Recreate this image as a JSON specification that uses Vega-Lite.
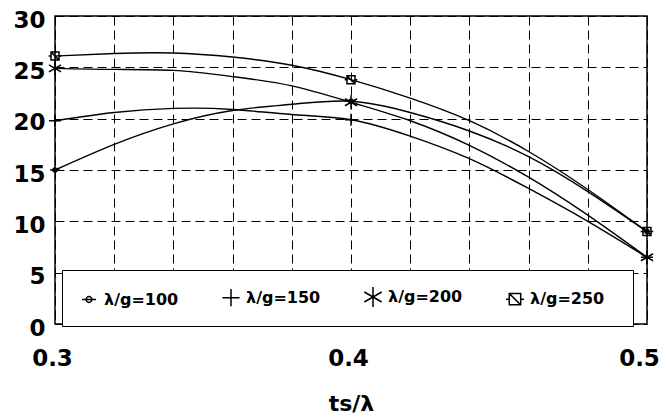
{
  "$schema": "https://vega.github.io/schema/vega-lite/v6.json",
  "width": 592,
  "height": 308,
  "autosize": "none",
  "padding": {"left": 55, "top": 16, "right": 20, "bottom": 96},
  "background": "white",
  "config": {
    "view": {"stroke": "black", "strokeWidth": 1.5},
    "font": "DejaVu Sans"
  },
  "data": {
    "values": [
      {"x": 0.30, "y": 15.0, "series": "λ/g=100"},
      {"x": 0.32, "y": 17.5, "series": "λ/g=100"},
      {"x": 0.34, "y": 19.5, "series": "λ/g=100"},
      {"x": 0.36, "y": 20.8, "series": "λ/g=100"},
      {"x": 0.38, "y": 21.4, "series": "λ/g=100"},
      {"x": 0.40, "y": 21.7, "series": "λ/g=100"},
      {"x": 0.42, "y": 20.6, "series": "λ/g=100"},
      {"x": 0.44, "y": 18.8, "series": "λ/g=100"},
      {"x": 0.46, "y": 16.3, "series": "λ/g=100"},
      {"x": 0.48, "y": 12.9, "series": "λ/g=100"},
      {"x": 0.50, "y": 9.0, "series": "λ/g=100"},
      {"x": 0.30, "y": 19.8, "series": "λ/g=150"},
      {"x": 0.32, "y": 20.6, "series": "λ/g=150"},
      {"x": 0.34, "y": 21.0, "series": "λ/g=150"},
      {"x": 0.36, "y": 20.9, "series": "λ/g=150"},
      {"x": 0.38, "y": 20.4, "series": "λ/g=150"},
      {"x": 0.40, "y": 19.9, "series": "λ/g=150"},
      {"x": 0.42, "y": 18.3, "series": "λ/g=150"},
      {"x": 0.44, "y": 16.1, "series": "λ/g=150"},
      {"x": 0.46, "y": 13.2, "series": "λ/g=150"},
      {"x": 0.48, "y": 10.0, "series": "λ/g=150"},
      {"x": 0.50, "y": 6.5, "series": "λ/g=150"},
      {"x": 0.30, "y": 24.9, "series": "λ/g=200"},
      {"x": 0.32, "y": 24.8, "series": "λ/g=200"},
      {"x": 0.34, "y": 24.7, "series": "λ/g=200"},
      {"x": 0.36, "y": 24.1, "series": "λ/g=200"},
      {"x": 0.38, "y": 23.2, "series": "λ/g=200"},
      {"x": 0.40, "y": 21.6, "series": "λ/g=200"},
      {"x": 0.42, "y": 19.8, "series": "λ/g=200"},
      {"x": 0.44, "y": 17.4, "series": "λ/g=200"},
      {"x": 0.46, "y": 14.3, "series": "λ/g=200"},
      {"x": 0.48, "y": 10.6, "series": "λ/g=200"},
      {"x": 0.50, "y": 6.5, "series": "λ/g=200"},
      {"x": 0.30, "y": 26.1, "series": "λ/g=250"},
      {"x": 0.32, "y": 26.35, "series": "λ/g=250"},
      {"x": 0.34, "y": 26.4, "series": "λ/g=250"},
      {"x": 0.36, "y": 26.0, "series": "λ/g=250"},
      {"x": 0.38, "y": 25.2, "series": "λ/g=250"},
      {"x": 0.40, "y": 23.8, "series": "λ/g=250"},
      {"x": 0.42, "y": 22.0, "series": "λ/g=250"},
      {"x": 0.44, "y": 19.8, "series": "λ/g=250"},
      {"x": 0.46, "y": 16.8, "series": "λ/g=250"},
      {"x": 0.48, "y": 13.1, "series": "λ/g=250"},
      {"x": 0.50, "y": 9.0, "series": "λ/g=250"}
    ]
  },
  "encoding": {
    "x": {
      "field": "x",
      "type": "quantitative",
      "scale": {"domain": [0.3, 0.5], "nice": false, "zero": false},
      "axis": {
        "values": [0.3, 0.32, 0.34, 0.36, 0.38, 0.4, 0.42, 0.44, 0.46, 0.48, 0.5],
        "format": ".1f",
        "labelExpr": "datum.value == 0.3 || datum.value == 0.4 || datum.value == 0.5 ? datum.label : ''",
        "labelOverlap": false,
        "labelFlush": false,
        "labelBound": false,
        "labelOffset": {"condition": {"test": "datum.value == 0.5", "value": -8}, "value": -3},
        "title": "ts/λ",
        "grid": true,
        "gridDash": [9, 5],
        "gridColor": "black",
        "gridOpacity": 1,
        "gridWidth": 1,
        "ticks": false,
        "domain": false,
        "labelFont": "DejaVu Sans",
        "labelFontWeight": "bold",
        "labelFontSize": 23,
        "labelColor": "black",
        "labelPadding": 23,
        "titleFont": "DejaVu Sans",
        "titleFontWeight": "bold",
        "titleFontSize": 22,
        "titleColor": "black",
        "titlePadding": 23
      }
    },
    "y": {
      "field": "y",
      "type": "quantitative",
      "scale": {"domain": [0, 30], "nice": false},
      "axis": {
        "values": [0, 5, 10, 15, 20, 25, 30],
        "title": null,
        "grid": true,
        "gridDash": [9, 5],
        "gridColor": "black",
        "gridOpacity": 1,
        "gridWidth": 1,
        "ticks": false,
        "domain": false,
        "labelFont": "DejaVu Sans",
        "labelFontWeight": "bold",
        "labelFontSize": 23,
        "labelColor": "black",
        "labelPadding": 10,
        "labelOffset": 4
      }
    }
  },
  "layer": [
    {
      "mark": {"type": "line", "color": "black", "strokeWidth": 1.4, "interpolate": "natural"},
      "encoding": {"detail": {"field": "series", "type": "nominal"}}
    },
    {
      "transform": [{"filter": "datum.x == 0.3 || datum.x == 0.4 || datum.x == 0.5"}],
      "mark": {"type": "point", "filled": false, "stroke": "black", "strokeWidth": 1.5, "opacity": 1, "size": 196},
      "encoding": {
        "shape": {
          "field": "series",
          "type": "nominal",
          "scale": {
            "domain": ["λ/g=100", "λ/g=150", "λ/g=200", "λ/g=250"],
            "range": [
              "M-0.7,0H0.7M-0.29,0A0.29,0.29 0 1,0 0.29,0A0.29,0.29 0 1,0 -0.29,0",
              "M-0.86,0H0.86M0,-0.86V0.86",
              "M0,-1V1M-0.866,-0.5L0.866,0.5M-0.866,0.5L0.866,-0.5",
              "M-0.57,-0.57H0.57V0.57H-0.57ZM-0.57,-0.57L0.57,0.57M-0.9,0H-0.57M0.57,0H0.9"
            ]
          },
          "legend": {
            "title": null,
            "orient": "none",
            "legendX": 7,
            "legendY": 254,
            "direction": "horizontal",
            "columns": 4,
            "fillColor": "white",
            "strokeColor": "black",
            "padding": 16,
            "columnPadding": 40,
            "labelFont": "DejaVu Sans",
            "labelFontWeight": "bold",
            "labelFontSize": 16,
            "labelColor": "black",
            "labelOffset": 4,
            "labelExpr": "datum.value == 'λ/g=250' ? datum.label + '\u2800' : datum.label",
            "symbolSize": 400,
            "symbolStrokeColor": "black",
            "symbolStrokeWidth": 1.5,
            "symbolFillColor": "transparent"
          }
        }
      }
    }
  ]
}
